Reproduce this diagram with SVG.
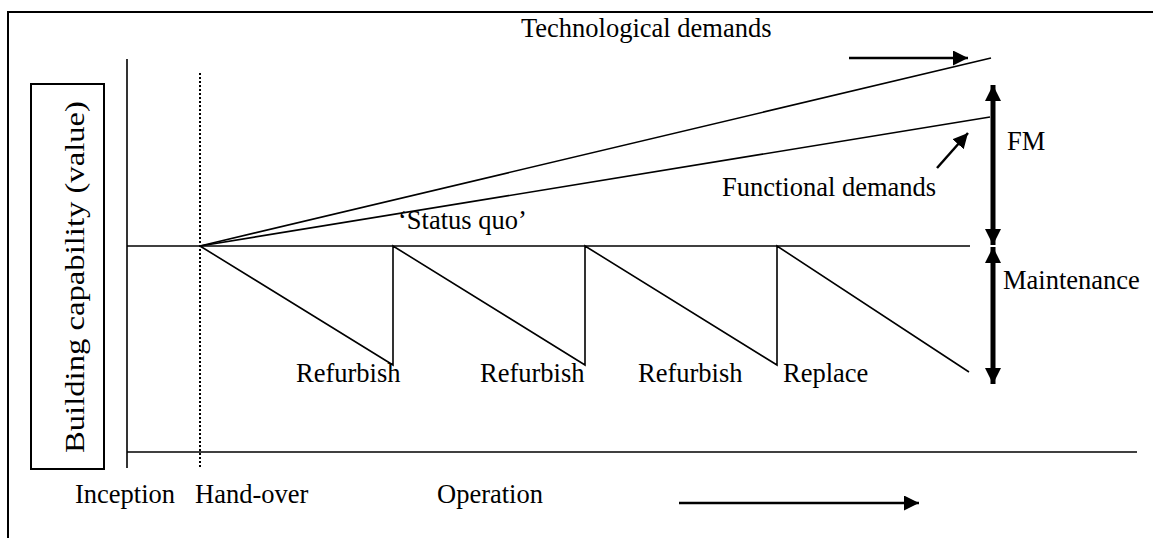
<svg xmlns="http://www.w3.org/2000/svg" width="1153" height="538" viewBox="0 0 1153 538">
  <style>
    .ln { stroke: #000; stroke-width: 1.6; fill: none; }
    .frame { stroke: #000; stroke-width: 2; fill: none; }
    .thick { stroke: #000; stroke-width: 5; fill: none; }
    .arr { stroke: #000; stroke-width: 2.5; fill: none; }
    .dot { stroke: #000; stroke-width: 2; stroke-dasharray: 2 2; fill: none; }
    text { font-family: "Liberation Serif", "Times New Roman", serif; font-size: 26.5px; fill: #000; }
  </style>
  <defs>
    <marker id="head" viewBox="0 0 10 10" refX="10" refY="5" markerWidth="6" markerHeight="6" markerUnits="strokeWidth" orient="auto">
      <path d="M0,0 L10,5 L0,10 Z" fill="#000"/>
    </marker>
    <marker id="bighead" viewBox="0 0 10 10" refX="10" refY="5" markerWidth="3.2" markerHeight="4" markerUnits="strokeWidth" orient="auto">
      <path d="M0,0 L10,5 L0,10 Z" fill="#000"/>
    </marker>
  </defs>

  <!-- page frame -->
  <path class="frame" d="M8,538 V12 H1153"/>

  <!-- axis label box -->
  <g id="axis-label">
    <rect class="frame" x="31" y="84" width="73" height="385"/>
    <text transform="translate(84,277) rotate(-90)" text-anchor="middle" textLength="352" lengthAdjust="spacingAndGlyphs">Building capability (value)</text>
  </g>

  <!-- axes and time markers -->
  <g id="axes">
    <line class="ln" x1="127" y1="59" x2="127" y2="468"/>
    <line class="ln" x1="127" y1="452" x2="1137" y2="452"/>
    <line class="dot" x1="200" y1="73" x2="200" y2="468"/>
  </g>

  <!-- status quo level and demand lines -->
  <g id="levels">
    <line class="ln" x1="127" y1="246" x2="970" y2="246"/>
    <line class="ln" x1="200" y1="246" x2="991" y2="58"/>
    <line class="ln" x1="200" y1="246" x2="990" y2="117"/>
  </g>

  <!-- deterioration and refurbishment cycles -->
  <g id="sawtooth">
    <path class="ln" d="M200,246 L393,365 V246 L585,365 V246 L777,365 V246 L969,372"/>
  </g>

  <g id="connectors">
    <line class="arr" x1="849" y1="58" x2="968" y2="58" marker-end="url(#head)"/>
    <line class="arr" x1="937" y1="168" x2="968" y2="133" marker-end="url(#head)"/>
    <line class="arr" x1="679" y1="503" x2="919" y2="503" marker-end="url(#head)"/>
    <!-- FM span -->
    <line class="thick" x1="993" y1="165" x2="993" y2="85" marker-end="url(#bighead)"/>
    <line class="thick" x1="993" y1="165" x2="993" y2="245" marker-end="url(#bighead)"/>
    <!-- maintenance span -->
    <line class="thick" x1="993" y1="315" x2="993" y2="247" marker-end="url(#bighead)"/>
    <line class="thick" x1="993" y1="315" x2="993" y2="384" marker-end="url(#bighead)"/>
  </g>

  <g id="labels">
    <text x="521" y="37">Technological demands</text>
    <text x="1007" y="150">FM</text>
    <text x="722" y="196">Functional demands</text>
    <text x="398" y="229">‘Status quo’</text>
    <text x="1003" y="289">Maintenance</text>
    <text x="296" y="382">Refurbish</text>
    <text x="480" y="382">Refurbish</text>
    <text x="638" y="382">Refurbish</text>
    <text x="783" y="382">Replace</text>
    <text x="75" y="503">Inception</text>
    <text x="195" y="503">Hand-over</text>
    <text x="437" y="503">Operation</text>
  </g>
</svg>
